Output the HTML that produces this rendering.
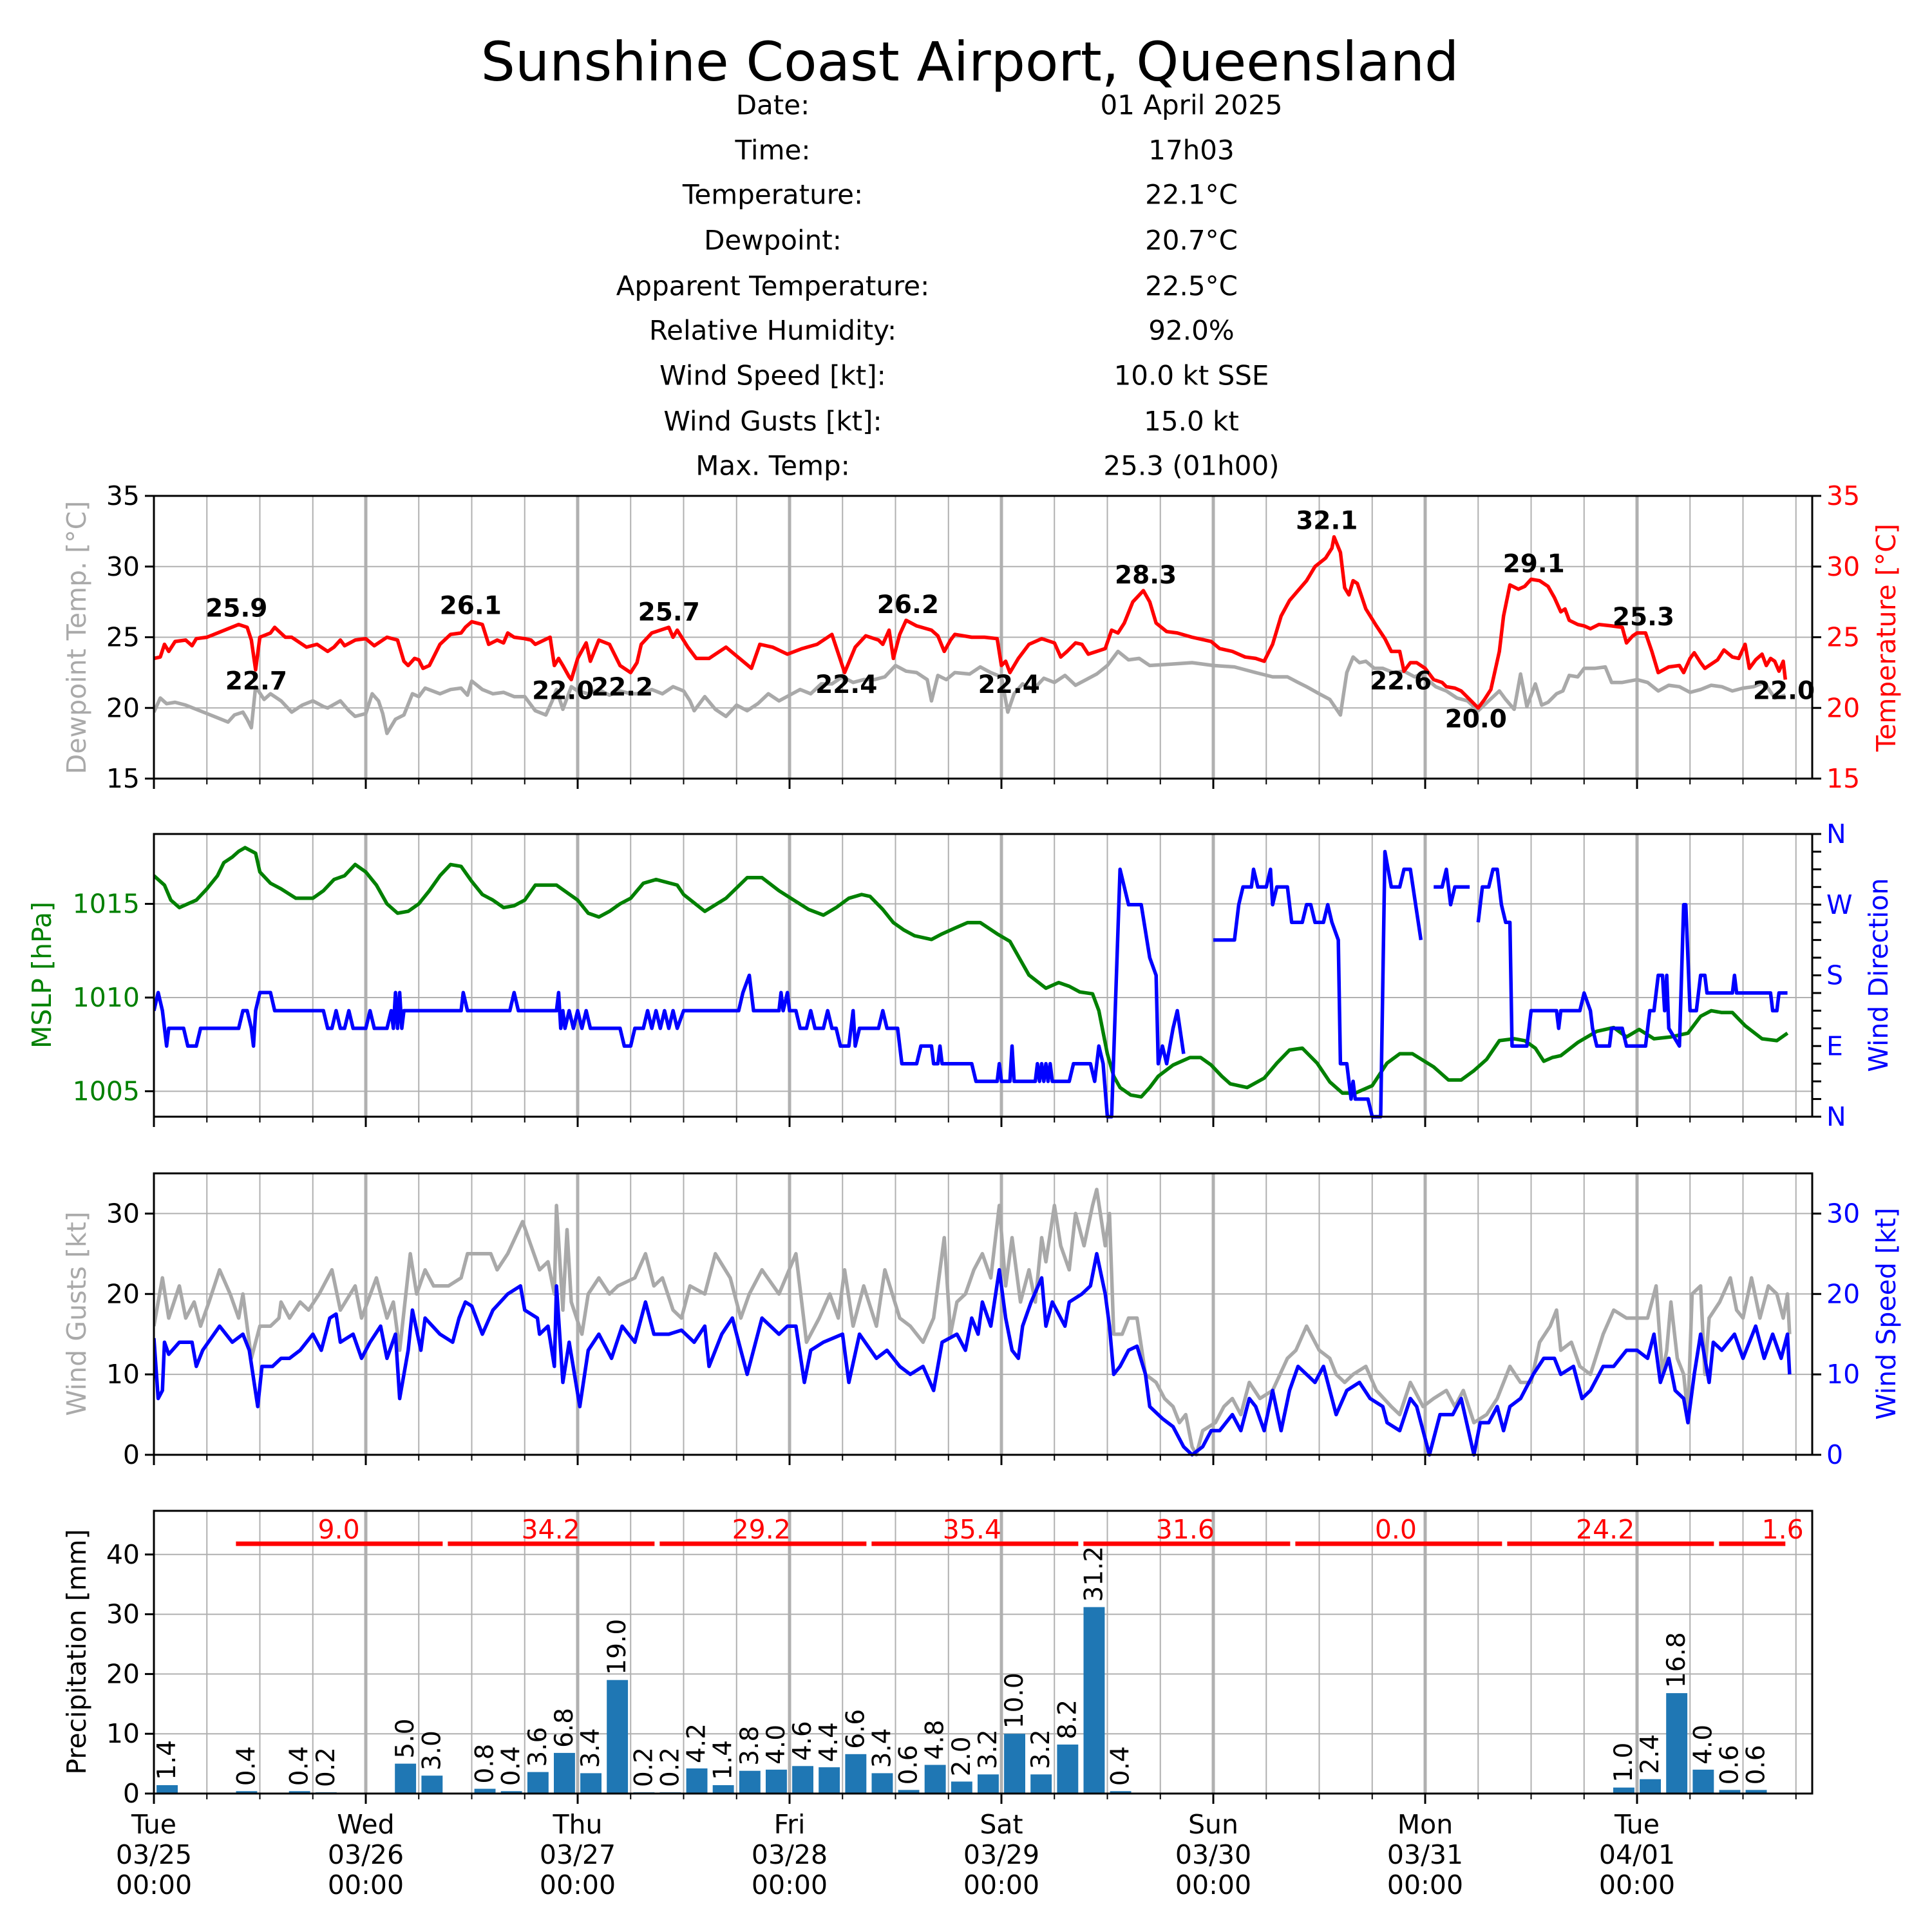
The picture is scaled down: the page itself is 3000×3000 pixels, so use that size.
<!DOCTYPE html>
<html><head><meta charset="utf-8">
<style>
html,body{margin:0;padding:0;background:#fff;}
svg{display:block;font-family:"DejaVu Sans","Liberation Sans",sans-serif;}
</style></head>
<body>
<svg id="s" width="3000" height="3000" viewBox="0 0 3000 3000" xmlns="http://www.w3.org/2000/svg">
<rect width="3000" height="3000" fill="#fff"/>
<text x="1506" y="96" font-size="84" text-anchor="middle" dominant-baseline="central">Sunshine Coast Airport, Queensland</text>
</svg>
<script>
const S=document.getElementById('s');
let h='';
const L=239,R=2814,DW=329;
const X=d=>L+d*DW;
const GR='#a9a9a9';
function txt(x,y,t,o){o=o||{};h+=`<text x="${x}" y="${y}" font-size="${o.fs||41}" fill="${o.c||'#000'}" text-anchor="${o.a||'middle'}" dominant-baseline="central"${o.w?' font-weight="bold"':''}${o.tr?` transform="${o.tr}"`:''}>${t}</text>`;}
const info=[["Date:","01 April 2025"],["Time:","17h03"],["Temperature:","22.1°C"],["Dewpoint:","20.7°C"],["Apparent Temperature:","22.5°C"],["Relative Humidity:","92.0%"],["Wind Speed [kt]:","10.0 kt SSE"],["Wind Gusts [kt]:","15.0 kt"],["Max. Temp:","25.3 (01h00)"]];
const iy=[163,233,302,373,444,513,583,654,723];
info.forEach((r,i)=>{txt(1200,iy[i],r[0],{fs:42});txt(1850,iy[i],r[1],{fs:42});});
const AX=[[770,1209],[1295,1734],[1822,2259],[2346,2785]];
function grid(ai,yticks){const [t,b]=AX[ai];
 for(let q=1;q<32;q++){const d=q*0.25;const x=X(d);if(x>=R)break;const maj=q%4==0;
  h+=`<line x1="${x}" y1="${t}" x2="${x}" y2="${b}" stroke="#b0b0b0" stroke-width="${maj?5:2}"/>`;
  h+=`<line x1="${x}" y1="${b}" x2="${x}" y2="${b+(maj?16:9)}" stroke="#000" stroke-width="${maj?3:2}"/>`;}
 h+=`<line x1="${L}" y1="${b}" x2="${L}" y2="${b+16}" stroke="#000" stroke-width="3"/>`;
 yticks.forEach(y=>{h+=`<line x1="${L}" y1="${y}" x2="${R}" y2="${y}" stroke="#b0b0b0" stroke-width="2"/>`;});
}
function frame(ai){const [t,b]=AX[ai];h+=`<rect x="${L}" y="${t}" width="${R-L}" height="${b-t}" fill="none" stroke="#000" stroke-width="3"/>`;}
function line(pts,fy,col,ai,w){const [t,b]=AX[ai];
 h+=`<polyline clip-path="url(#c${ai})" fill="none" stroke="${col}" stroke-width="${w||5.5}" stroke-linejoin="round" points="${pts.map(p=>X(p[0]).toFixed(1)+','+fy(p[1]).toFixed(1)).join(' ')}"/>`;}
function P(a){const r=[];for(let i=0;i<a.length;i+=2)r.push([a[i],a[i+1]]);return r;}
h+='<defs>'+AX.map((a,i)=>`<clipPath id="c${i}"><rect x="${L}" y="${a[0]-3}" width="${R-L}" height="${a[1]-a[0]+6}"/></clipPath>`).join('')+'</defs>';

const fT=v=>1209-(v-15)*21.95;
grid(0,[15,20,25,30,35].map(fT));
const dew=P([0,19.7,0.03,20.7,0.06,20.3,0.1,20.4,0.15,20.2,0.2,19.9,0.25,19.6,0.3,19.3,0.35,19.0,0.38,19.5,0.42,19.7,0.44,19.2,0.46,18.6,0.48,21.5,0.52,20.6,0.55,21,0.6,20.5,0.65,19.7,0.7,20.2,0.75,20.5,0.8,20.1,0.82,20.0,0.88,20.5,0.92,19.8,0.95,19.4,1.0,19.6,1.03,21,1.06,20.5,1.08,19.6,1.1,18.2,1.14,19.2,1.18,19.5,1.22,21,1.25,20.8,1.28,21.4,1.35,21,1.4,21.3,1.45,21.4,1.48,20.9,1.5,21.9,1.55,21.3,1.6,21,1.65,21.1,1.7,20.8,1.75,20.8,1.8,19.8,1.85,19.5,1.88,20.5,1.9,21.3,1.93,19.9,1.97,21.5,2.0,21.2,2.05,21.0,2.1,21.3,2.15,20.9,2.2,21.2,2.25,21.0,2.3,21.0,2.35,21.3,2.4,21.0,2.45,21.5,2.5,21.2,2.53,20.5,2.55,19.8,2.6,20.8,2.65,19.9,2.7,19.4,2.75,20.2,2.8,19.8,2.85,20.3,2.9,21.0,2.95,20.5,3.0,20.9,3.05,21.3,3.1,21.0,3.15,21.7,3.2,21.7,3.25,22.2,3.3,21.8,3.35,22.0,3.4,22,3.45,22.2,3.5,23,3.55,22.6,3.6,22.5,3.65,22.0,3.67,20.5,3.7,22.3,3.74,22.0,3.78,22.5,3.85,22.4,3.9,22.9,3.95,22.5,4.0,22.2,4.03,19.7,4.06,21.0,4.1,21.7,4.15,21.3,4.2,22.1,4.25,21.8,4.3,22.3,4.35,21.6,4.4,22,4.45,22.4,4.5,23,4.55,24,4.6,23.4,4.65,23.5,4.7,23.0,4.8,23.1,4.9,23.2,5.0,23.0,5.1,22.9,5.2,22.5,5.28,22.2,5.35,22.2,5.4,21.8,5.44,21.5,5.5,21.0,5.55,20.6,5.6,19.5,5.63,22.5,5.66,23.6,5.69,23.2,5.72,23.3,5.76,22.8,5.8,22.8,5.85,22.5,5.9,22.6,5.95,22.2,5.98,22.4,6.05,21.5,6.1,21.2,6.15,20.7,6.2,20.5,6.25,19.8,6.3,20.5,6.35,21.2,6.38,20.6,6.42,19.9,6.45,22.4,6.48,20.1,6.52,21.7,6.55,20.2,6.58,20.4,6.62,21,6.65,21.2,6.68,22.3,6.72,22.2,6.75,22.8,6.8,22.8,6.85,22.9,6.88,21.8,6.93,21.8,7.0,22.0,7.05,21.8,7.1,21.2,7.15,21.6,7.2,21.5,7.25,21.1,7.3,21.3,7.35,21.6,7.4,21.5,7.45,21.2,7.5,21.4,7.55,21.5,7.6,21.8,7.65,20.7,7.7,20.9]);
line(dew,fT,GR,0);
const tmp=P([0,23.5,0.03,23.6,0.05,24.5,0.07,24.0,0.1,24.7,0.15,24.8,0.18,24.4,0.2,24.9,0.25,25,0.3,25.3,0.35,25.6,0.4,25.9,0.44,25.7,0.46,24.8,0.48,22.7,0.5,25,0.55,25.3,0.57,25.7,0.62,25.0,0.65,25,0.72,24.3,0.77,24.5,0.82,24,0.85,24.3,0.88,24.8,0.9,24.4,0.95,24.8,1.0,24.9,1.04,24.4,1.1,25,1.15,24.8,1.18,23.3,1.2,23,1.23,23.5,1.25,23.4,1.27,22.8,1.3,23,1.35,24.5,1.4,25.2,1.45,25.3,1.47,25.7,1.5,26.1,1.55,25.9,1.58,24.5,1.62,24.8,1.65,24.6,1.67,25.3,1.7,25,1.75,24.9,1.78,24.8,1.8,24.5,1.87,25,1.89,23.0,1.91,23.5,1.93,23.0,1.96,22.2,1.97,22,2.0,23.5,2.04,24.6,2.06,23.3,2.1,24.8,2.15,24.5,2.2,23,2.25,22.5,2.28,23.2,2.3,24.5,2.35,25.3,2.43,25.7,2.45,25.0,2.47,25.5,2.52,24.3,2.56,23.5,2.62,23.5,2.7,24.3,2.78,23.3,2.82,22.8,2.86,24.5,2.92,24.3,2.99,23.8,3.06,24.2,3.13,24.5,3.2,25.2,3.26,22.5,3.31,24.3,3.36,25.1,3.42,24.8,3.44,24.5,3.47,25.5,3.49,23.5,3.52,25.2,3.55,26.2,3.6,25.8,3.67,25.5,3.7,25.1,3.73,24,3.76,24.8,3.78,25.2,3.86,25,3.92,25.0,3.98,24.9,4.0,23,4.02,23.3,4.04,22.5,4.08,23.5,4.13,24.5,4.19,24.9,4.25,24.6,4.28,23.6,4.31,24.0,4.35,24.6,4.38,24.5,4.41,23.8,4.45,24.0,4.49,24.2,4.52,25.5,4.55,25.3,4.58,26.0,4.62,27.5,4.67,28.3,4.7,27.5,4.73,26.0,4.78,25.4,4.83,25.3,4.9,25.0,4.99,24.7,5.03,24.2,5.09,24.0,5.15,23.6,5.2,23.5,5.24,23.3,5.28,24.5,5.32,26.5,5.36,27.6,5.4,28.3,5.44,29,5.48,30,5.53,30.6,5.56,31.3,5.57,32.1,5.6,31,5.62,28.5,5.64,28,5.66,29,5.68,28.8,5.72,27,5.77,25.8,5.81,24.9,5.84,24,5.88,24,5.9,22.6,5.93,23.2,5.96,23.2,6.0,22.8,6.04,22,6.08,21.8,6.1,21.5,6.14,21.4,6.17,21.2,6.21,20.6,6.25,20.0,6.28,20.6,6.31,21.3,6.35,24,6.37,26.5,6.40,28.7,6.44,28.4,6.47,28.6,6.50,29.1,6.54,29.0,6.58,28.6,6.61,27.8,6.64,26.8,6.66,27.0,6.68,26.2,6.72,25.9,6.75,25.8,6.78,25.6,6.82,25.9,6.88,25.8,6.93,25.7,6.95,24.6,6.98,25.1,7.0,25.3,7.04,25.3,7.07,24.0,7.1,22.5,7.15,22.9,7.2,23,7.22,22.5,7.25,23.5,7.27,23.9,7.3,23.2,7.32,22.8,7.35,23.1,7.38,23.4,7.41,24.1,7.45,23.6,7.48,23.5,7.51,24.5,7.53,22.8,7.56,23.4,7.59,23.8,7.61,23.0,7.63,23.5,7.65,23.3,7.67,22.6,7.69,23.3,7.7,22.0]);
line(tmp,fT,'#ff0000',0);
frame(0);
[15,20,25,30,35].forEach(v=>{const y=fT(v);h+=`<line x1="${L-14}" y1="${y}" x2="${L}" y2="${y}" stroke="#000" stroke-width="3"/><line x1="${R}" y1="${y}" x2="${R+14}" y2="${y}" stroke="#000" stroke-width="3"/>`;txt(L-22,y,v,{a:'end'});txt(R+22,y,v,{a:'start',c:'#ff0000'});});
txt(119,990,'Dewpoint Temp. [°C]',{c:GR,tr:'rotate(-90 119 990)'});
txt(2929,990,'Temperature [°C]',{c:'#ff0000',tr:'rotate(-90 2929 990)'});
const ann=[["25.9",192,494],["22.7",208,553],["26.1",382,492],["22.0",457,561],["22.2",505,558],["25.7",543,497],["22.4",687,556],["26.2",737,491],["22.4",819,556],["28.3",930,467],["32.1",1077,423],["22.6",1137,553],["20.0",1198,584],["29.1",1245,458],["25.3",1334,501],["22.0",1448,561]];
ann.forEach(a=>txt(a[1]*1.913,a[2]*1.913,a[0],{w:1,fs:39}));

const fP=v=>1549-(v-1010)*29.1;
const fD=v=>1734-v*(439/360);
grid(1,[1005,1010,1015].map(fP));
const ps=P([0,1016.5,0.05,1016,0.08,1015.2,0.12,1014.8,0.16,1015.0,0.2,1015.2,0.25,1015.8,0.3,1016.5,0.33,1017.2,0.37,1017.5,0.4,1017.8,0.43,1018,0.48,1017.7,0.5,1016.7,0.55,1016.1,0.6,1015.8,0.67,1015.3,0.75,1015.3,0.8,1015.7,0.85,1016.3,0.9,1016.5,0.95,1017.1,1.0,1016.7,1.05,1016,1.1,1015,1.15,1014.5,1.2,1014.6,1.25,1015,1.3,1015.7,1.35,1016.5,1.4,1017.1,1.45,1017,1.5,1016.2,1.55,1015.5,1.6,1015.2,1.65,1014.8,1.7,1014.9,1.75,1015.2,1.8,1016.0,1.9,1016.0,1.95,1015.6,2.0,1015.2,2.05,1014.5,2.1,1014.3,2.15,1014.6,2.2,1015,2.25,1015.3,2.31,1016.1,2.37,1016.3,2.47,1016,2.5,1015.5,2.6,1014.6,2.70,1015.3,2.80,1016.4,2.87,1016.4,2.95,1015.7,3.02,1015.2,3.09,1014.7,3.16,1014.4,3.22,1014.8,3.28,1015.3,3.34,1015.5,3.38,1015.4,3.44,1014.7,3.49,1014,3.54,1013.6,3.59,1013.3,3.67,1013.1,3.72,1013.4,3.78,1013.7,3.84,1014.0,3.9,1014.0,3.98,1013.4,4.04,1013.0,4.09,1012.0,4.13,1011.2,4.21,1010.5,4.27,1010.8,4.32,1010.6,4.37,1010.3,4.43,1010.2,4.46,1009.3,4.50,1007,4.53,1005.8,4.56,1005.2,4.61,1004.8,4.66,1004.7,4.70,1005.2,4.74,1005.8,4.81,1006.4,4.89,1006.8,4.94,1006.8,4.99,1006.4,5.04,1005.8,5.08,1005.4,5.16,1005.2,5.24,1005.7,5.30,1006.5,5.36,1007.2,5.42,1007.3,5.49,1006.5,5.55,1005.5,5.61,1004.9,5.67,1004.9,5.75,1005.3,5.82,1006.5,5.88,1007.0,5.94,1007.0,6.04,1006.3,6.11,1005.6,6.17,1005.6,6.23,1006.1,6.29,1006.7,6.35,1007.7,6.42,1007.8,6.47,1007.7,6.52,1007.3,6.56,1006.6,6.60,1006.8,6.64,1006.9,6.72,1007.6,6.81,1008.2,6.89,1008.4,6.95,1007.9,7.01,1008.3,7.08,1007.8,7.16,1007.9,7.24,1008.1,7.30,1009.0,7.35,1009.3,7.40,1009.2,7.45,1009.2,7.51,1008.5,7.59,1007.8,7.66,1007.7,7.71,1008.1]);
line(ps,fP,'#008000',1);
const wd1=P([0,135,0.02,158,0.04,135,0.06,90,0.07,112.5,0.14,112.5,0.16,90,0.2,90,0.22,112.5,0.4,112.5,0.42,135,0.44,135,0.46,112.5,0.47,90,0.48,135,0.5,158,0.55,158,0.57,135,0.8,135,0.82,112.5,0.84,112.5,0.86,135,0.88,112.5,0.9,112.5,0.92,135,0.94,112.5,1.0,112.5,1.02,135,1.04,112.5,1.1,112.5,1.12,135,1.13,112.5,1.14,158,1.15,112.5,1.16,158,1.17,112.5,1.18,135,1.45,135,1.46,158,1.48,135,1.68,135,1.7,158,1.72,135,1.9,135,1.91,158,1.92,112.5,1.93,135,1.94,112.5,1.96,135,1.98,112.5,2.0,135,2.02,112.5,2.04,135,2.06,112.5,2.2,112.5,2.22,90,2.25,90,2.27,112.5,2.31,112.5,2.33,135,2.35,112.5,2.37,135,2.39,112.5,2.41,135,2.43,112.5,2.45,135,2.47,112.5,2.5,135,2.76,135,2.78,158,2.81,180,2.83,135,2.95,135,2.96,158,2.97,135,2.99,158,3.0,135,3.03,135,3.05,112.5,3.08,112.5,3.1,135,3.12,112.5,3.16,112.5,3.18,135,3.2,112.5,3.22,112.5,3.24,90,3.28,90,3.3,135,3.31,90,3.33,112.5,3.42,112.5,3.44,135,3.46,112.5,3.51,112.5,3.53,67.5,3.6,67.5,3.62,90,3.67,90,3.68,67.5,3.70,67.5,3.71,90,3.72,67.5,3.86,67.5,3.88,45,3.98,45,3.99,67.5,4.0,45,4.04,45,4.05,90,4.06,45,4.16,45,4.17,67.5,4.18,45,4.19,67.5,4.2,45,4.21,67.5,4.22,45,4.23,67.5,4.24,45,4.32,45,4.34,67.5,4.42,67.5,4.44,45,4.46,90,4.48,67.5,4.5,0,4.52,0,4.56,315,4.6,270,4.66,270,4.7,202.5,4.73,180,4.74,67.5,4.76,90,4.78,67.5,4.81,112.5,4.83,135,4.86,80]);
line(wd1,fD,'#0000ff',1);
line(P([5.0,225,5.1,225,5.12,270,5.14,292.5,5.18,292.5,5.19,315,5.21,292.5,5.25,292.5,5.27,315,5.28,270,5.3,292.5,5.35,292.5,5.37,247.5,5.42,247.5,5.44,270,5.46,270,5.48,247.5,5.52,247.5,5.54,270,5.56,247.5,5.59,225,5.6,67.5,5.63,67.5,5.64,45,5.65,22.5,5.66,45,5.67,22.5,5.73,22.5,5.75,0,5.79,0,5.81,337.5,5.84,292.5,5.88,292.5,5.9,315,5.93,315,5.98,225]),fD,'#0000ff',1);
line(P([6.04,292.5,6.08,292.5,6.1,315,6.12,270,6.14,292.5,6.21,292.5]),fD,'#0000ff',1);
line(P([6.25,247.5,6.27,292.5,6.30,292.5,6.32,315,6.34,315,6.36,270,6.38,247.5,6.40,247.5,6.41,90,6.48,90,6.5,135,6.62,135,6.63,112.5,6.64,135,6.73,135,6.75,157.5,6.78,135,6.79,112.5,6.81,90,6.87,90,6.88,112.5,6.93,112.5,6.95,90,7.04,90,7.06,135,7.08,135,7.1,180,7.12,180,7.13,135,7.14,180,7.15,112.5,7.2,90,7.22,270,7.23,270,7.25,135,7.28,135,7.3,180,7.32,180,7.33,157.5,7.45,157.5,7.46,180,7.47,157.5,7.63,157.5,7.64,135,7.66,135,7.67,157.5,7.71,157.5]),fD,'#0000ff',1);
frame(1);
[1005,1010,1015].forEach(v=>{const y=fP(v);h+=`<line x1="${L-14}" y1="${y}" x2="${L}" y2="${y}" stroke="#000" stroke-width="3"/>`;txt(L-22,y,v,{a:'end',c:'#008000'});});
for(let k=0;k<=16;k++){const y=fD(k*22.5);h+=`<line x1="${R}" y1="${y}" x2="${R+14}" y2="${y}" stroke="#000" stroke-width="3"/>`;}
[['N',0],['E',90],['S',180],['W',270],['N',360]].forEach(a=>txt(R+22,fD(a[1]),a[0],{a:'start',c:'#0000ff'}));
txt(65,1514,'MSLP [hPa]',{c:'#008000',tr:'rotate(-90 65 1514)'});
txt(2917,1514,'Wind Direction',{c:'#0000ff',tr:'rotate(-90 2917 1514)'});

const fW=v=>2259-v*12.486;
grid(2,[0,10,20,30].map(fW));
const gu=P([0,16,0.04,22,0.07,17,0.12,21,0.15,17,0.19,19,0.22,16,0.26,19,0.31,23,0.36,20,0.4,17,0.42,20,0.46,12,0.5,16,0.55,16,0.59,17,0.6,19,0.64,17,0.69,19,0.73,18,0.78,20,0.84,23,0.88,18,0.95,21,0.98,17,1.05,22,1.1,17,1.13,19,1.16,13,1.21,25,1.24,20,1.28,23,1.32,21,1.39,21,1.45,22,1.48,25,1.59,25,1.62,23,1.67,25,1.74,29,1.78,26,1.82,23,1.86,24,1.89,20,1.9,31,1.93,18,1.95,28,1.97,19,2.02,15,2.05,20,2.1,22,2.15,20,2.19,21,2.27,22,2.32,25,2.36,21,2.4,22,2.45,18,2.49,17,2.53,21,2.6,20,2.65,25,2.72,22,2.77,17,2.81,20,2.87,23,2.95,20,3.03,25,3.08,14,3.14,17,3.19,20,3.23,17,3.26,23,3.3,16,3.35,21,3.41,16,3.45,23,3.52,17,3.57,16,3.63,14,3.68,17,3.73,27,3.76,15,3.79,19,3.83,20,3.87,23,3.91,25,3.95,22,3.99,31,4.02,21,4.05,27,4.09,19,4.13,23,4.16,19,4.19,27,4.21,24,4.25,31,4.28,26,4.32,23,4.35,30,4.39,26,4.43,31,4.45,33,4.49,26,4.51,30,4.53,15,4.57,15,4.6,17,4.64,17,4.68,10,4.73,9,4.77,7,4.81,6,4.84,4,4.87,5,4.9,1,4.92,0,4.95,3,5.01,4,5.05,6,5.09,7,5.13,5,5.17,9,5.22,7,5.28,8,5.35,12,5.39,13,5.44,16,5.5,13,5.55,12,5.58,10,5.62,9,5.66,10,5.72,11,5.77,8,5.84,6,5.88,5,5.93,9,5.99,6,6.04,7,6.1,8,6.14,6,6.18,8,6.23,4,6.29,5,6.34,7,6.4,11,6.45,9,6.5,9,6.54,14,6.59,16,6.62,18,6.64,13,6.69,14,6.73,11,6.78,10,6.84,15,6.89,18,6.95,17,7.05,17,7.09,21,7.12,10,7.14,13,7.16,19,7.19,12,7.22,10,7.24,5,7.26,20,7.3,21,7.32,10,7.34,17,7.39,19,7.44,22,7.47,18,7.5,17,7.54,22,7.58,17,7.62,21,7.66,20,7.69,17,7.71,20,7.72,15]);
line(gu,fW,GR,2);
const sp=P([0,14.5,0.02,7,0.04,8,0.05,14,0.07,12.5,0.12,14,0.18,14,0.2,11,0.23,13,0.31,16,0.37,14,0.42,15,0.45,13,0.49,6,0.51,11,0.56,11,0.6,12,0.64,12,0.69,13,0.75,15,0.79,13,0.83,17,0.86,17.5,0.88,14,0.94,15,0.98,12,1.02,14,1.07,16,1.1,12,1.14,15,1.16,7,1.2,13,1.22,18,1.26,13,1.28,17,1.35,15,1.41,14,1.44,17,1.47,19,1.5,18.5,1.55,15,1.6,18,1.67,20,1.73,21,1.75,18,1.81,17,1.82,15,1.86,16,1.89,11,1.9,21,1.93,9,1.96,14,2.01,6,2.05,13,2.1,15,2.16,12,2.21,16,2.27,14,2.32,19,2.36,15,2.43,15,2.49,15.5,2.55,14,2.6,16,2.62,11,2.68,15,2.73,17,2.8,10,2.87,17,2.95,15,2.99,16,3.03,16,3.07,9,3.1,13,3.16,14,3.25,15,3.28,9,3.33,15,3.41,12,3.46,13,3.52,11,3.57,10,3.63,11,3.68,8,3.72,14,3.79,15,3.83,13,3.86,17,3.89,15,3.91,19,3.95,16,3.99,23,4.02,17,4.05,13,4.08,12,4.1,16,4.14,19,4.19,22,4.21,16,4.24,19,4.3,16,4.32,19,4.38,20,4.42,21,4.45,25,4.49,20,4.51,16,4.53,10,4.56,11,4.6,13,4.64,13.5,4.68,10,4.7,6,4.76,4.5,4.81,3.5,4.86,1,4.9,0,4.95,1,4.99,3,5.03,3,5.06,4,5.09,5,5.13,3,5.17,7,5.2,6,5.24,3,5.28,8,5.32,3,5.36,8,5.4,11,5.44,10,5.48,9,5.52,11,5.58,5,5.63,8,5.69,9,5.74,7,5.8,6,5.82,4,5.88,3,5.93,7,5.96,6,6.02,0,6.07,5,6.13,5,6.17,7,6.23,0,6.26,4,6.3,4,6.34,6,6.37,3,6.4,6,6.45,7,6.51,10,6.56,12,6.61,12,6.64,10,6.7,11,6.74,7,6.78,8,6.84,11,6.89,11,6.95,13,7.0,13,7.05,12,7.08,15,7.11,9,7.15,12,7.18,8,7.22,7,7.24,4,7.27,10,7.3,15,7.34,9,7.36,14,7.4,13,7.46,15,7.5,12,7.56,16,7.6,12,7.64,15,7.68,12,7.71,15,7.72,10]);
line(sp,fW,'#0000ff',2);
frame(2);
[0,10,20,30].forEach(v=>{const y=fW(v);h+=`<line x1="${L-14}" y1="${y}" x2="${L}" y2="${y}" stroke="#000" stroke-width="3"/><line x1="${R}" y1="${y}" x2="${R+14}" y2="${y}" stroke="#000" stroke-width="3"/>`;txt(L-22,y,v,{a:'end'});txt(R+22,y,v,{a:'start',c:'#0000ff'});});
txt(119,2040,'Wind Gusts [kt]',{c:GR,tr:'rotate(-90 119 2040)'});
txt(2929,2040,'Wind Speed [kt]',{c:'#0000ff',tr:'rotate(-90 2929 2040)'});

const fR=v=>2785-v*9.28;
grid(3,[0,10,20,30,40].map(fR));
const bars={0:1.4,3:0.4,5:0.4,6:0.2,9:5.0,10:3.0,12:0.8,13:0.4,14:3.6,15:6.8,16:3.4,17:19.0,18:0.2,19:0.2,20:4.2,21:1.4,22:3.8,23:4.0,24:4.6,25:4.4,26:6.6,27:3.4,28:0.6,29:4.8,30:2.0,31:3.2,32:10.0,33:3.2,34:8.2,35:31.2,36:0.4,55:1.0,56:2.4,57:16.8,58:4.0,59:0.6,60:0.6};
for(const n in bars){const v=bars[n];const cx=X((+n+0.5)*0.125);const w=0.1*DW;const y=fR(v);
 h+=`<rect x="${(cx-w/2).toFixed(1)}" y="${y.toFixed(1)}" width="${w.toFixed(1)}" height="${(2785-y).toFixed(1)}" fill="#1f77b4"/>`;
 const ty=y-8;h+=`<text x="0" y="0" font-size="39" text-anchor="start" dominant-baseline="central" transform="translate(${cx.toFixed(1)} ${ty.toFixed(1)}) rotate(-90)">${v.toFixed(1)}</text>`;}
const ry=fR(41.8);
const tots=['9.0','34.2','29.2','35.4','31.6','0.0','24.2','1.6'];
const tlx=[275,447,618,789,962,1133,1303,1447];
for(let k=0;k<8;k++){const a=X(k+0.375)+4;let b=X(k+1.375)-4;if(k==7)b=X(7.7);
 h+=`<line x1="${a}" y1="${ry}" x2="${b}" y2="${ry}" stroke="#ff0000" stroke-width="7"/>`;
 txt(tlx[k]*1.913,ry-22,tots[k],{c:'#ff0000'});}
frame(3);
[0,10,20,30,40].forEach(v=>{const y=fR(v);h+=`<line x1="${L-14}" y1="${y}" x2="${L}" y2="${y}" stroke="#000" stroke-width="3"/>`;txt(L-22,y,v,{a:'end'});});
txt(119,2565,'Precipitation [mm]',{tr:'rotate(-90 119 2565)'});
const days=[['Tue','03/25'],['Wed','03/26'],['Thu','03/27'],['Fri','03/28'],['Sat','03/29'],['Sun','03/30'],['Mon','03/31'],['Tue','04/01']];
days.forEach((d,i)=>{const x=X(i);txt(x,2833,d[0]);txt(x,2880,d[1]);txt(x,2927,'00:00');});
S.insertAdjacentHTML('beforeend',h);
</script>
</body></html>
